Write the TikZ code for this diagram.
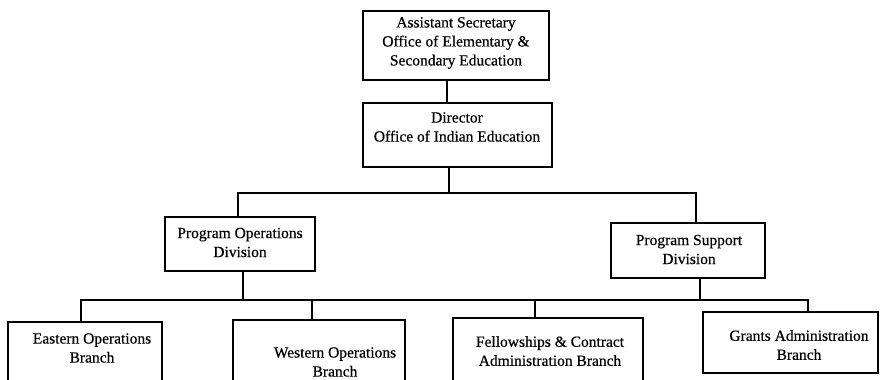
\documentclass[tikz,border=0pt]{standalone}
\usepackage{fontspec}
\setmainfont{Liberation Serif}
% slightly heavier serif for the box texts
\newfontfamily\boxfont[FakeBold=0.5]{Liberation Serif}
\begin{document}
\begin{tikzpicture}[x=1pt, y=-1pt,
  box/.style={draw=black, line width=1.6pt, rectangle, inner sep=0pt},
  lbl/.style={align=center, inner sep=0pt, font=\boxfont\fontsize{15.5}{19}\selectfont},
  link/.style={draw=black, line width=1.5pt}]
  % canvas
  \clip (0,0) rectangle (884,380);
  \fill[white] (0,0) rectangle (884,380);

  % boxes
  \node[box, minimum width=186pt, minimum height=69pt] (as)  at (456,45.5) {};
  \node[box, minimum width=189pt, minimum height=64pt] (dir) at (457.5,135) {};
  \node[box, minimum width=150pt, minimum height=54pt] (po)  at (240,244) {};
  \node[box, minimum width=154pt, minimum height=55pt] (ps)  at (688,250.5) {};
  \node[box, minimum width=154pt, minimum height=70pt] (eb)  at (85,357) {};
  \node[box, minimum width=172pt, minimum height=70pt] (wb)  at (319,355) {};
  \node[box, minimum width=190pt, minimum height=72pt] (fb)  at (548,354) {};
  \node[box, minimum width=175pt, minimum height=61pt] (gb)  at (790.5,342.5) {};

  % box texts
  \node[lbl] (asT)  at (456,43)    {Assistant Secretary\\Office of Elementary \&\\Secondary Education};
  \node[lbl] (dirT) at (457,127)   {Director\\Office of Indian Education};
  \node[lbl] (poT)  at (240,242.5) {Program Operations\\Division};
  \node[lbl] (psT)  at (689,249.5) {Program Support\\Division};
  \node[lbl] (ebT)  at (92,348)    {Eastern Operations\\Branch};
  \node[lbl] (wbT)  at (335,362)   {Western Operations\\Branch};
  \node[lbl] (fbT)  at (550,351)   {Fellowships \& Contract\\Administration Branch};
  \node[lbl] (gbT)  at (799,345)   {Grants Administration\\Branch};

  % junction points
  \coordinate (xa)  at (447,0);
  \coordinate (j1)  at (449,193);
  \coordinate (jpo) at (238,193);
  \coordinate (jps) at (696,193);
  \coordinate (xpo) at (243,0);
  \coordinate (xps) at (700,0);
  \coordinate (bl)  at (81,300);
  \coordinate (br)  at (808,300);
  \coordinate (xwb) at (312,0);
  \coordinate (xfb) at (535,0);

  % connectors
  \draw[link] (as.south -| xa) -- (dir.north -| xa);
  \draw[link] (dir.south -| j1) -- (j1);
  \draw[link] (po.north -| jpo) -- (jpo) -- (jps) -- (ps.north -| jps);
  \draw[link] (po.south -| xpo) -- (bl -| xpo);
  \draw[link] (ps.south -| xps) -- (bl -| xps);
  \draw[link] (eb.north -| bl) -- (bl) -- (br) -- (gb.north -| br);
  \draw[link] (bl -| xwb) -- (wb.north -| xwb);
  \draw[link] (bl -| xfb) -- (fb.north -| xfb);
\end{tikzpicture}
\end{document}
